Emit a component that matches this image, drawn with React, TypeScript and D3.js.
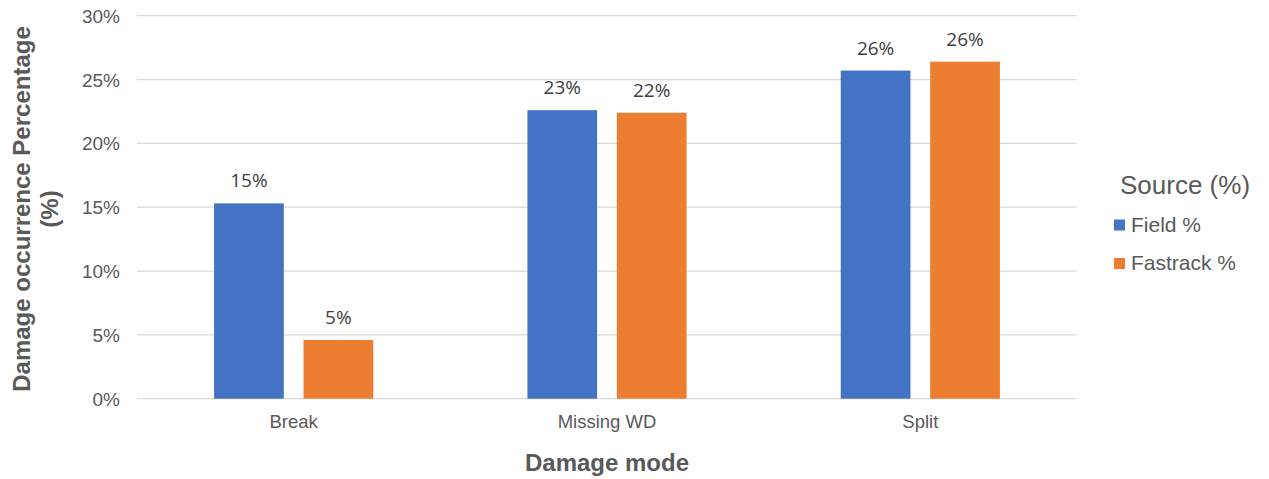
import React from "react";
import * as d3 from "d3";

const categories = ["Break", "Missing WD", "Split"];
const seriesNames = ["Field %", "Fastrack %"];
const fieldValues = [15.3, 22.6, 25.7];
const fastrackValues = [4.6, 22.4, 26.4];
const yTicks = [0, 5, 10, 15, 20, 25, 30];
const colors = ["#4472C4", "#ED7D31"];

const W = 1269;
const H = 479;
const plot = { left: 137, right: 1077, top: 15.7, bottom: 398.7 };

export default function App() {
  const x = d3.scaleBand<string>().domain(categories).range([plot.left, plot.right]).padding(0);
  const y = d3.scaleLinear().domain([0, 30]).range([plot.bottom, plot.top]);
  const band = x.bandwidth();
  const barW = band * 0.2225;
  const gap = band * 0.063;
  const series = [fieldValues, fastrackValues];
  const labelFont = "'Open Sans', 'Noto Sans', sans-serif";
  const axisFont = "'Liberation Sans', Arial, sans-serif";

  return (
    <svg width={W} height={H} style={{ position: "absolute", left: 0, top: 0, background: "#fff" }}>
      {yTicks.map((t) => (
        <g key={t}>
          <line x1={plot.left} x2={plot.right} y1={y(t)} y2={y(t)} stroke="#D9D9D9" strokeWidth={1.3} />
          <text x={120} y={y(t) + 7} textAnchor="end" fontFamily={axisFont} fontSize={19} fill="#595959">
            {`${t}%`}
          </text>
        </g>
      ))}
      {categories.map((c, i) => {
        const cx = (x(c) as number) + band / 2;
        return (
          <g key={c}>
            {series.map((vals, s) => {
              const bx = s === 0 ? cx - gap / 2 - barW : cx + gap / 2;
              const v = vals[i];
              return (
                <g key={s}>
                  <rect x={bx} y={y(v)} width={barW} height={y(0) - y(v)} fill={colors[s]} />
                  <text x={bx + barW / 2} y={y(v) - 16} textAnchor="middle" fontFamily={labelFont} fontSize={19} fill="#404040">
                    {`${Math.round(v)}%`}
                  </text>
                </g>
              );
            })}
            <text x={cx} y={428} textAnchor="middle" fontFamily={axisFont} fontSize={18.5} fill="#595959">
              {c}
            </text>
          </g>
        );
      })}
      <text x={(plot.left + plot.right) / 2} y={470.5} textAnchor="middle" fontFamily={axisFont} fontWeight="bold" fontSize={24} fill="#595959">
        Damage mode
      </text>
      <g transform={`translate(30, 209) rotate(-90)`}>
        <text x={0} y={0} textAnchor="middle" fontFamily={axisFont} fontWeight="bold" fontSize={24} fill="#595959">
          Damage occurrence Percentage
        </text>
        <text x={0} y={28} textAnchor="middle" fontFamily={axisFont} fontWeight="bold" fontSize={24} fill="#595959">
          (%)
        </text>
      </g>
      <text x={1120} y={194} fontFamily={axisFont} fontSize={26} fill="#595959">
        Source (%)
      </text>
      {seriesNames.map((n, i) => (
        <g key={n} transform={`translate(1114, ${231.5 + i * 38.5})`}>
          <rect x={0} y={-12} width={11} height={11} fill={colors[i]} />
          <text x={17} y={0} fontFamily={axisFont} fontSize={21} fill="#595959">
            {n}
          </text>
        </g>
      ))}
    </svg>
  );
}
